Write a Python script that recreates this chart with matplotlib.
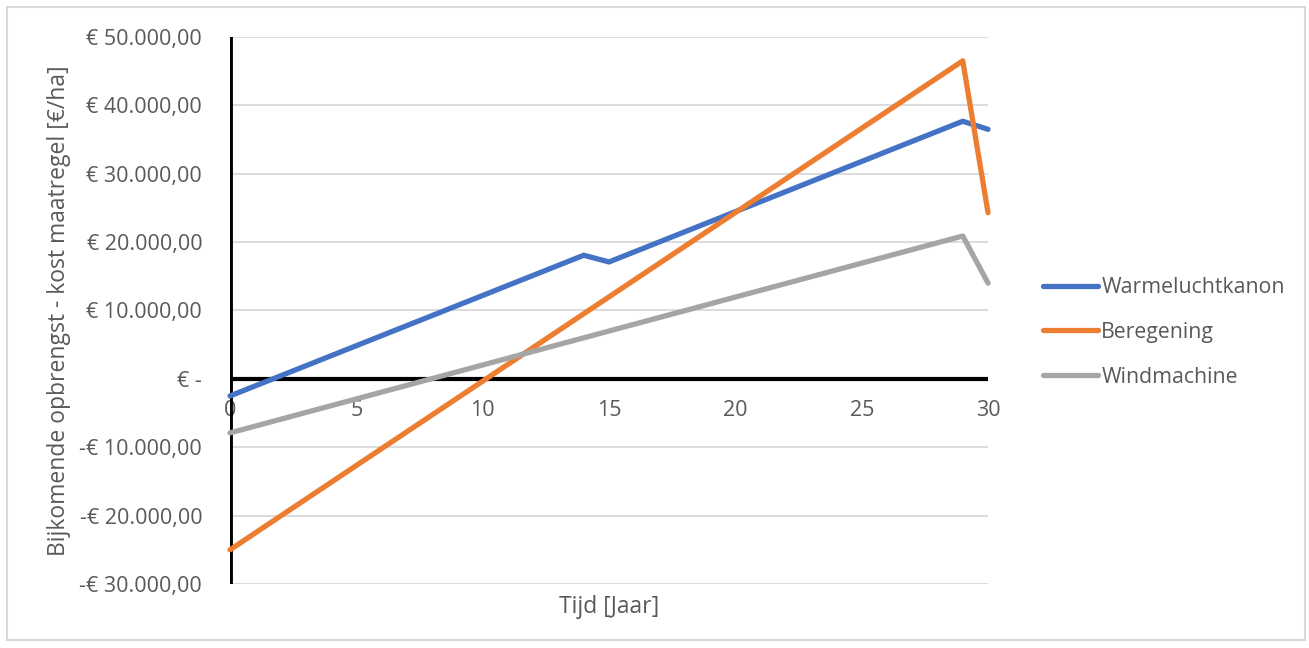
import numpy as np
import matplotlib.pyplot as plt
from matplotlib.patches import Rectangle
from matplotlib.ticker import FuncFormatter

plt.rcParams['font.family'] = ['Open Sans', 'DejaVu Sans']

# Jaren en cumulatieve opbrengst min kost per maatregel [euro/ha]
jaren = list(range(0, 31))
warmeluchtkanon = [-2500, -1030, 440, 1910, 3380, 4850, 6320, 7790, 9260, 10730,
                   12200, 13670, 15140, 16610, 18080, 17100, 18570, 20040, 21510, 22980,
                   24450, 25920, 27390, 28860, 30330, 31800, 33270, 34740, 36210, 37680,
                   36500]
beregening = [-25000, -22534, -20068, -17602, -15136, -12670, -10204, -7738, -5272, -2806,
              -340, 2126, 4592, 7058, 9524, 11990, 14456, 16922, 19388, 21854,
              24320, 26786, 29252, 31718, 34184, 36650, 39116, 41582, 44048, 46514,
              24300]
windmachine = [-7900, -6907, -5914, -4921, -3928, -2935, -1942, -949, 44, 1037,
               2030, 3023, 4016, 5009, 6002, 6995, 7988, 8981, 9974, 10967,
               11960, 12953, 13946, 14939, 15932, 16925, 17918, 18911, 19904, 20897,
               14000]

reeksen = ['Warmeluchtkanon', 'Beregening', 'Windmachine']
kleuren = ['#4472C4', '#ED7D31', '#A5A5A5']
tekstkleur = '#595959'

fig = plt.figure(figsize=(13.09, 6.48), dpi=100)
ax = fig.add_axes([0.1757, 0.0988, 0.5791, 0.8441])

# rand om de hele figuur
fig.patches.append(Rectangle((0.005, 0.012), 0.992, 0.977, transform=fig.transFigure,
                             fill=False, edgecolor='#D9D9D9', linewidth=1.5))

for y in range(-30000, 50001, 10000):
    ax.axhline(y, color='#D9D9D9', linewidth=1.3, zorder=1)

for naam, data, kleur in zip(reeksen, [warmeluchtkanon, beregening, windmachine], kleuren):
    ax.plot(jaren, data, color=kleur, linewidth=3.8, label=naam, zorder=3,
            solid_capstyle='round', solid_joinstyle='round', clip_on=False)

ax.axhline(0, color='black', linewidth=3, zorder=2)
ax.axvline(0, color='black', linewidth=3.5, zorder=2)

ax.set_xlim(0, 30)
ax.set_ylim(-30000, 50000)
ax.set_yticks(range(-30000, 50001, 10000))
ax.set_xticks([0, 5, 10, 15, 20, 25, 30])

def euro(v, pos):
    if v == 0:
        return '€ -'
    s = f'{abs(v):,.2f}'.replace(',', 'X').replace('.', ',').replace('X', '.')
    return ('-€ ' if v < 0 else '€ ') + s

ax.yaxis.set_major_formatter(FuncFormatter(euro))

for s in ax.spines.values():
    s.set_visible(False)
ax.spines['bottom'].set_position(('data', 0))
ax.tick_params(axis='both', length=0, colors=tekstkleur, labelsize=15.5)
ax.tick_params(axis='y', pad=20)
ax.tick_params(axis='x', pad=15)

fig.text(0.045, 0.52, 'Bijkomende opbrengst - kost maatregel [€/ha]', rotation=90,
         ha='center', va='center', fontsize=16.5, color=tekstkleur)
fig.text(0.465, 0.064, 'Tijd [Jaar]', ha='center', va='center', fontsize=16.5, color=tekstkleur)

leg = fig.legend(loc='center left', bbox_to_anchor=(0.782, 0.487), frameon=False,
                 fontsize=15.3, handlelength=2.6, labelspacing=1.12, handletextpad=0.15)
for t in leg.get_texts():
    t.set_color(tekstkleur)

fig.savefig('out.png', dpi=100)
